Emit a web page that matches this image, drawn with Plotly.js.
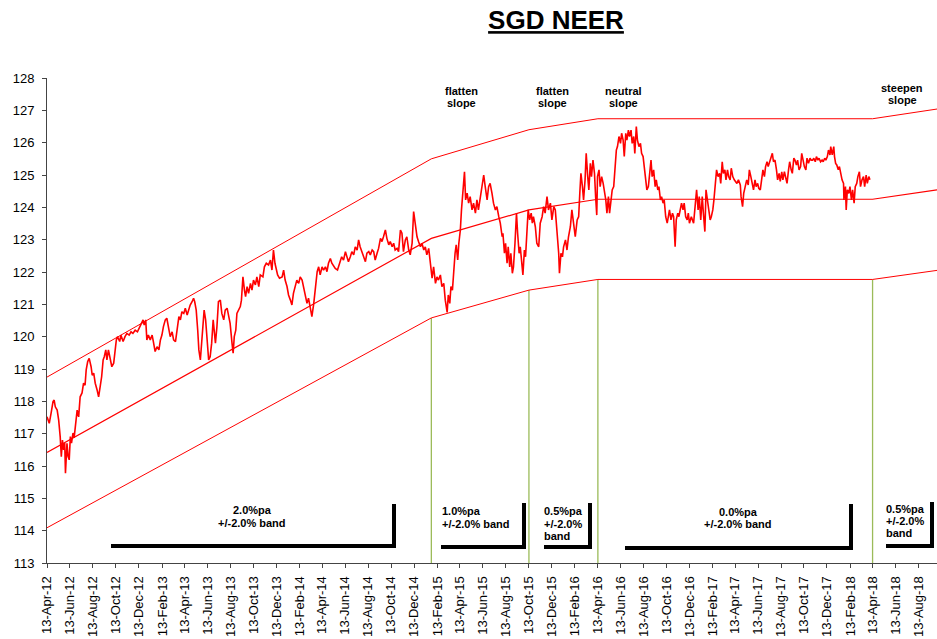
<!DOCTYPE html>
<html><head><meta charset="utf-8">
<script src="https://cdn.plot.ly/plotly-3.0.1.min.js"></script>
<style>html,body{margin:0;padding:0;background:#fff}#chart{width:937px;height:639px}</style>
</head><body><div id="chart"></div>
<script>
// NEER readings: [days since 13-Apr-2012, index value]
const neerSeries = [
[0,117.52],[6,117.32],[11,117.64],[16,117.99],[19,118.04],[22,117.83],[27,117.73],[31,117.42],[35,116.91],[38,116.29],
[41,116.8],[44,116.5],[47,116.71],[49,115.78],[53,116.7],[56,116.29],[59,116.19],[62,116.91],[65,116.71],[69,117.02],
[72,116.87],[76,117.22],[80,117.73],[84,117.52],[88,118.14],[93,118.26],[97,118.56],[101,118.5],[104,118.97],[108,119.23],
[112,119.33],[117,119.07],[120,118.81],[124,118.87],[128,118.56],[133,118.35],[137,118.14],[141,118.45],[145,118.76],[149,119.28],
[152,119.38],[156,119.59],[159,119.28],[163,119.59],[168,119.33],[172,119.07],[177,119.18],[181,119.59],[184,119.9],[187,120.0],
[193,119.85],[196,120.05],[202,119.85],[207,120.0],[212,120.1],[218,120.05],[223,120.15],[228,120.1],[234,120.2],[240,120.15],
[246,120.31],[251,120.46],[255,120.52],[258,120.36],[262,120.52],[265,119.9],[269,120.05],[274,119.9],[279,120.05],[283,119.8],
[287,119.54],[292,119.69],[297,119.59],[301,119.9],[305,120.05],[309,120.31],[314,120.52],[318,120.57],[323,120.31],[327,120.0],
[332,120.15],[336,119.9],[341,119.85],[347,120.41],[350,120.62],[354,120.52],[358,120.77],[363,120.72],[367,120.88],[372,120.67],
[376,120.82],[380,120.98],[385,121.08],[389,121.19],[392,121.08],[396,120.82],[400,120.2],[403,119.59],[407,119.28],[410,119.69],
[414,120.41],[417,120.82],[421,120.52],[425,119.9],[429,119.28],[433,119.38],[437,119.8],[441,120.52],[444,120.2],[447,119.8],
[451,120.31],[455,121.08],[460,121.13],[464,120.72],[469,120.52],[473,120.82],[478,120.88],[482,120.62],[486,120.41],[491,119.8],
[494,119.49],[497,120.0],[501,120.2],[504,120.72],[509,120.82],[513,120.93],[516,121.13],[520,121.85],[524,121.44],[527,121.24],
[531,121.55],[535,121.34],[540,121.65],[544,121.44],[548,121.75],[553,121.6],[557,121.85],[562,121.55],[566,121.91],[573,121.85],
[577,122.16],[582,122.27],[588,122.22],[593,122.37],[597,122.06],[601,122.68],[605,122.27],[609,122.11],[612,121.91],[617,121.81],
[624,121.85],[628,122.06],[632,121.75],[637,121.55],[641,121.29],[646,121.13],[650,120.98],[654,121.34],[659,121.55],[663,121.75],
[668,121.65],[672,121.85],[677,121.75],[681,121.5],[686,121.24],[690,121.03],[694,121.19],[699,120.93],[703,120.62],[708,121.03],
[712,121.55],[717,122.01],[721,122.16],[725,121.91],[730,122.16],[734,122.06],[739,122.16],[743,122.01],[747,122.27],[752,122.42],
[756,122.27],[761,122.16],[765,122.11],[771,122.06],[777,122.27],[782,122.47],[787,122.37],[792,122.63],[796,122.47],[800,122.32],
[805,122.47],[809,122.63],[814,122.53],[818,122.78],[823,122.68],[827,122.99],[831,122.78],[836,122.63],[840,122.53],[845,122.32],
[849,122.58],[854,122.63],[858,122.53],[863,122.68],[867,122.63],[871,122.37],[876,122.58],[880,122.73],[885,123.04],[889,122.94],
[893,123.09],[898,123.3],[902,123.04],[907,122.84],[911,122.94],[916,122.78],[920,122.89],[924,122.68],[929,122.73],[933,122.63],
[938,123.3],[942,123.2],[946,122.63],[951,122.99],[955,123.09],[960,122.68],[964,122.53],[969,122.89],[973,123.87],[977,123.51],
[982,123.09],[986,122.94],[991,122.78],[995,122.89],[1000,122.68],[1004,122.78],[1008,122.53],[1013,122.73],[1017,122.37],[1022,121.81],
[1026,122.16],[1031,121.65],[1035,121.85],[1039,121.75],[1044,121.91],[1048,121.55],[1053,121.65],[1057,121.13],[1062,120.75],[1065,121.29],
[1069,121.03],[1072,121.55],[1076,121.44],[1079,122.06],[1083,122.58],[1086,122.84],[1090,122.37],[1093,122.89],[1097,123.3],[1100,123.92],
[1104,124.54],[1108,125.1],[1111,124.23],[1115,124.44],[1119,124.13],[1123,124.33],[1128,123.92],[1132,124.13],[1137,123.82],[1141,124.23],
[1145,123.92],[1150,124.33],[1154,124.54],[1159,125.0],[1163,124.64],[1168,124.23],[1172,124.64],[1176,124.74],[1181,124.43],[1185,124.13],
[1190,123.92],[1194,124.02],[1199,123.71],[1203,123.51],[1208,123.09],[1210,123.2],[1214,122.58],[1217,122.89],[1221,122.27],[1224,122.78],
[1228,122.16],[1231,122.58],[1235,121.96],[1238,122.16],[1242,122.89],[1246,123.82],[1249,123.2],[1253,122.58],[1256,122.78],[1260,122.37],
[1263,121.91],[1267,122.68],[1270,122.47],[1274,123.3],[1277,123.92],[1281,123.61],[1285,123.82],[1288,123.51],[1291,123.71],[1296,123.4],
[1300,122.89],[1305,122.78],[1309,123.51],[1314,123.71],[1318,124.02],[1322,123.82],[1327,124.33],[1331,123.92],[1336,124.13],[1340,123.61],
[1345,124.02],[1349,123.92],[1354,123.3],[1358,122.58],[1360,121.96],[1364,122.58],[1368,122.47],[1371,122.78],[1376,122.99],[1380,122.68],
[1384,123.09],[1389,123.4],[1393,123.92],[1398,123.4],[1402,123.09],[1407,123.61],[1411,123.71],[1414,124.43],[1417,125.05],[1421,124.64],
[1424,124.23],[1428,124.85],[1431,125.67],[1435,124.95],[1438,124.54],[1442,125.36],[1445,124.95],[1449,125.46],[1453,125.05],[1456,124.33],
[1459,123.76],[1461,124.95],[1465,125.16],[1468,124.64],[1472,124.95],[1476,124.74],[1479,124.54],[1483,124.23],[1486,123.82],[1490,124.33],
[1493,123.82],[1497,124.23],[1500,124.54],[1504,124.64],[1507,125.16],[1511,125.77],[1514,125.88],[1518,126.19],[1522,125.98],[1525,126.29],
[1529,126.08],[1532,125.57],[1536,126.29],[1539,126.08],[1543,126.39],[1546,126.19],[1550,126.39],[1553,125.98],[1557,126.19],[1560,125.67],
[1564,126.5],[1567,126.08],[1571,125.88],[1575,125.98],[1578,125.67],[1582,125.57],[1585,125.26],[1589,124.85],[1592,124.54],[1596,124.64],
[1599,125.05],[1603,125.46],[1606,124.95],[1610,125.16],[1614,124.64],[1617,124.85],[1621,124.54],[1624,124.64],[1628,124.23],[1631,124.33],
[1635,124.13],[1638,124.23],[1642,123.71],[1646,123.51],[1649,123.71],[1652,123.92],[1656,123.61],[1660,123.82],[1663,123.71],[1667,122.78],
[1670,123.61],[1674,123.82],[1677,123.71],[1681,124.02],[1684,124.13],[1688,123.92],[1691,124.13],[1695,123.71],[1699,123.61],[1702,123.82],
[1705,123.51],[1710,123.71],[1712,123.61],[1716,123.51],[1720,124.02],[1724,124.54],[1728,123.92],[1731,124.33],[1735,123.61],[1739,124.33],
[1742,123.82],[1746,123.25],[1749,124.54],[1753,124.23],[1756,123.92],[1760,123.61],[1763,123.71],[1767,123.92],[1770,124.23],[1774,124.95],
[1777,125.16],[1781,124.95],[1785,125.05],[1788,124.74],[1792,125.41],[1795,125.05],[1799,125.16],[1802,124.85],[1806,125.16],[1809,124.95],
[1813,124.85],[1816,125.21],[1820,124.95],[1824,124.85],[1827,124.8],[1831,124.74],[1835,124.85],[1840,124.69],[1842,124.33],[1846,124.02],
[1849,124.43],[1853,124.64],[1857,124.85],[1861,124.69],[1864,125.16],[1868,124.95],[1872,124.74],[1875,124.54],[1879,124.85],[1882,124.64],
[1886,124.74],[1889,124.59],[1893,124.54],[1896,124.85],[1900,125.16],[1904,124.95],[1907,125.26],[1911,125.41],[1914,125.26],[1918,125.41],
[1921,125.52],[1925,125.67],[1928,125.41],[1932,125.46],[1936,125.16],[1939,124.85],[1943,125.05],[1946,124.8],[1950,125.1],[1953,124.85],
[1957,125.1],[1960,124.95],[1964,124.74],[1968,125.16],[1971,125.41],[1975,125.16],[1978,125.05],[1982,125.52],[1985,125.46],[1989,125.31],
[1992,125.46],[1996,125.16],[2000,125.26],[2003,125.67],[2007,125.46],[2010,125.26],[2014,125.16],[2017,125.52],[2021,125.36],[2025,125.52],
[2028,125.46],[2032,125.46],[2035,125.52],[2039,125.41],[2042,125.57],[2046,125.46],[2049,125.52],[2053,125.41],[2057,125.46],[2060,125.41],
[2064,125.52],[2067,125.46],[2071,125.57],[2074,125.77],[2078,125.62],[2080,125.88],[2084,125.62],[2088,125.88],[2090,125.57],[2093,125.36],
[2096,125.31],[2100,125.16],[2103,125.26],[2107,124.95],[2110,124.85],[2114,124.74],[2115,124.23],[2119,124.64],[2121,123.92],[2124,124.54],
[2128,124.43],[2131,124.64],[2135,124.23],[2138,124.54],[2142,124.13],[2145,124.64],[2149,124.74],[2152,124.95],[2156,125.1],[2159,124.64],
[2163,124.85],[2167,124.95],[2170,124.64],[2174,125.0],[2177,124.74],[2181,124.95],[2184,124.85]
];

// Policy band vertices
const bandDates = ['2012-04-13','2015-01-28','2015-10-14','2016-04-14','2018-04-13','2018-10-01'];
const bandUpper = [118.75, 125.50, 126.40, 126.74, 126.74, 127.04];
const bandMid   = [116.42, 123.04, 123.92, 124.25, 124.25, 124.54];
const bandLower = [114.09, 120.58, 121.44, 121.77, 121.77, 122.05];

// Policy change dates (green markers), from axis floor up to the lower band
const policyDates = ['2015-01-28','2015-10-14','2016-04-14','2018-04-13'];
const policyLower = [120.58, 121.44, 121.77, 121.77];

const topLabels = [['flatten','slope'],['flatten','slope'],['neutral','slope'],['steepen','slope']];
const bandLabels = [['2.0%pa','+/-2.0% band'],['1.0%pa','+/-2.0% band'],['0.5%pa','+/-2.0%','band'],['0.0%pa','+/-2.0% band'],['0.5%pa','+/-2.0%','band']];

const START_MS = Date.UTC(2012, 3, 13);
function dayToDate(d){ return new Date(START_MS + d*86400000).toISOString().slice(0,10); }
const neerX = neerSeries.map(p => dayToDate(p[0]));
const neerY = neerSeries.map(p => p[1]);

const greenX = [], greenY = [];
policyDates.forEach((d,i)=>{ greenX.push(d,d,null); greenY.push(113, policyLower[i], null); });

const L = 47, T = 78, PW = 890, PH = 485;
const px = x => (x - L)/PW;
const py = y => (T + PH - y)/PH;
const FONT = 'Liberation Sans, Arial, sans-serif';

const traces = [
  {x: greenX, y: greenY, mode:'lines', line:{color:'#9bbb59', width:1.3}, hoverinfo:'skip'},
  {x: bandDates, y: bandUpper, mode:'lines', line:{color:'#ff0000', width:1}},
  {x: bandDates, y: bandMid, mode:'lines', line:{color:'#ff0000', width:1.2}},
  {x: bandDates, y: bandLower, mode:'lines', line:{color:'#ff0000', width:1}},
  {x: neerX, y: neerY, mode:'lines', line:{color:'#ff0000', width:1.6}}
];

const annotations = [];
function addText(lines, x, ys, anchor){
  lines.forEach((t,i)=>annotations.push({text:'<b>'+t+'</b>', xref:'paper', yref:'paper', x:px(x), y:py(ys[i]),
    xanchor:anchor, yanchor:'middle', showarrow:false, borderpad:0, font:{family:FONT, size:11, color:'#000'}}));
}
addText(topLabels[0], 461, [91,103], 'center');
addText(topLabels[1], 552, [91,103], 'center');
addText(topLabels[2], 623, [90.5,102.5], 'center');
addText(topLabels[3], 902, [87.5,100.5], 'center');
addText(bandLabels[0], 252, [510,522.5], 'center');
addText(bandLabels[1], 441, [511,523.5], 'left');
addText(bandLabels[2], 543, [511,523.5,535.5], 'left');
addText(bandLabels[3], 738, [511.5,523.5], 'center');
addText(bandLabels[4], 885, [509,521,533], 'left');

const brackets = [[111,394,546,504],[441,524,547,503],[544,590,547,503],[625,851,548,504],[886,932,546,502]];
const shapes = brackets.map(b => ({type:'path', xref:'paper', yref:'paper',
  path:`M ${px(b[0])},${py(b[2])} L ${px(b[1])},${py(b[2])} L ${px(b[1])},${py(b[3])}`,
  line:{color:'#000', width:4}}));

const layout = {
  width:937, height:639, showlegend:false,
  paper_bgcolor:'#fff', plot_bgcolor:'#fff',
  margin:{l:L, r:0, t:T, b:76, pad:0},
  title:{text:'<b>SGD NEER</b>', xref:'paper', x:px(556), xanchor:'center', yref:'container', y:1-20/639, yanchor:'middle',
    font:{family:FONT, size:26, color:'#000', lineposition:'under'}},
  xaxis:{type:'date', range:['2012-04-13','2018-10-01'], tick0:'2012-04-13', dtick:'M2', tickformat:'%d-%b-%y',
    tickangle:-90, ticks:'outside', ticklen:4, tickcolor:'#444', showline:true, linecolor:'#444', linewidth:1,
    showgrid:false, zeroline:false, tickfont:{family:FONT, size:13, color:'#000'}, ticklabelstandoff:3, fixedrange:true},
  yaxis:{range:[113,128], dtick:1, ticks:'outside', ticklen:4, tickcolor:'#444', showline:true, linecolor:'#444', linewidth:1,
    showgrid:false, zeroline:false, tickfont:{family:FONT, size:13, color:'#000'}, ticklabelstandoff:5, fixedrange:true},
  annotations, shapes, hovermode:false
};
Plotly.newPlot('chart', traces, layout, {displayModeBar:false, staticPlot:true});
</script></body></html>
